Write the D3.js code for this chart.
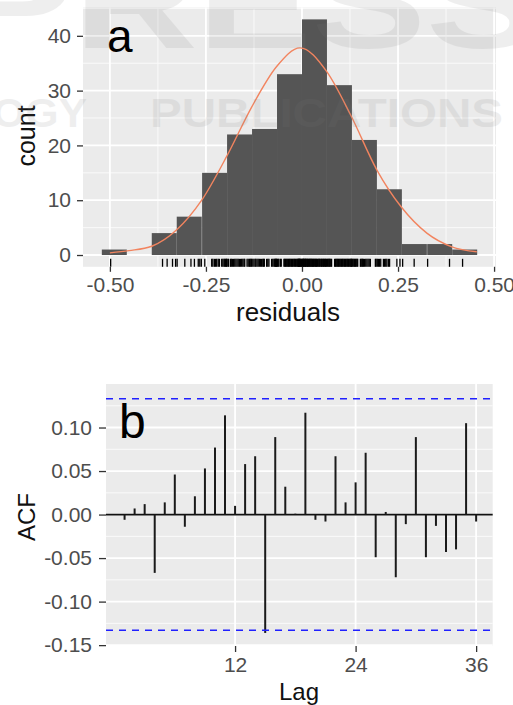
<!DOCTYPE html>
<html lang="en">
<head>
<meta charset="utf-8">
<title>Residual diagnostics</title>
<script src="https://cdn.jsdelivr.net/npm/d3@7"></script>
<style>
  body { margin: 0; background: #fff; }
  svg text { font-family: "Liberation Sans", Arial, sans-serif; }
</style>
</head>
<body>
<svg id="chart" width="513" height="705"></svg>
<script>
// ---- panel a: histogram of residuals ----
var binLeft = [-0.521, -0.456, -0.391, -0.326, -0.260, -0.195, -0.130, -0.065, 0, 0.065, 0.130, 0.195, 0.260, 0.326, 0.391];
var binWidth = 0.065;
var binCounts = [1, 0, 4, 7, 15, 22, 23, 33, 43, 31, 21, 12, 2, 2, 1];

// points
var normX = [-0.500, -0.450, -0.391, -0.326, -0.261, -0.196, -0.131, -0.066, -0.005, 0.064, 0.127, 0.195, 0.258, 0.325, 0.390, 0.455];
var normY = [0.4, 0.8, 1.6, 4.6, 10, 18, 27, 34.4, 37.8, 33.5, 25.5, 15.5, 8.8, 4, 1.5, 0.6];

// rug of individual residuals
var rugValues = [
  -0.498,
  -0.363, -0.351, -0.337, -0.329,
  -0.325, -0.305, -0.289, -0.280, -0.270, -0.266, -0.262,
  -0.253, -0.235, -0.232, -0.228, -0.225, -0.222, -0.218, -0.215, -0.209, -0.206, -0.203, -0.201, -0.199, -0.197, -0.196,
  -0.193, -0.191, -0.186, -0.184, -0.181, -0.178, -0.175, -0.172, -0.169, -0.166, -0.163, -0.160, -0.157, -0.154, -0.151, -0.149, -0.143, -0.140, -0.137, -0.135, -0.133, -0.131,
  -0.128, -0.125, -0.122, -0.120, -0.117, -0.114, -0.111, -0.108, -0.105, -0.102, -0.100, -0.098, -0.092, -0.089, -0.086, -0.079, -0.076, -0.073, -0.071, -0.069, -0.068, -0.067, -0.066,
  -0.064, -0.062, -0.060, -0.056, -0.054, -0.047, -0.045, -0.043, -0.041, -0.039, -0.037, -0.035, -0.033, -0.031, -0.029, -0.027, -0.025, -0.023, -0.021, -0.019, -0.017, -0.015, -0.013, -0.011, -0.010, -0.009, -0.008, -0.007, -0.006, -0.005, -0.004, -0.002, -0.001,
  0.001, 0.002, 0.003, 0.004, 0.005, 0.006, 0.008, 0.009, 0.010, 0.011, 0.013, 0.014, 0.015, 0.017, 0.018, 0.020, 0.021, 0.023, 0.024, 0.026, 0.027, 0.029, 0.030, 0.032, 0.034, 0.035, 0.037, 0.038, 0.040, 0.042, 0.044, 0.045, 0.047, 0.049, 0.051, 0.052, 0.054, 0.056, 0.057, 0.059, 0.061, 0.062, 0.064,
  0.066, 0.068, 0.070, 0.071, 0.073, 0.075, 0.077, 0.085, 0.087, 0.089, 0.091, 0.093, 0.095, 0.097, 0.099, 0.101, 0.103, 0.105, 0.107, 0.109, 0.111, 0.113, 0.115, 0.117, 0.119, 0.121, 0.123, 0.125, 0.127, 0.128, 0.129,
  0.131, 0.133, 0.135, 0.137, 0.139, 0.141, 0.143, 0.145, 0.152, 0.154, 0.156, 0.158, 0.160, 0.163, 0.166, 0.169, 0.172, 0.175, 0.178, 0.191, 0.193,
  0.196, 0.199, 0.202, 0.205, 0.212, 0.215, 0.218, 0.221, 0.225, 0.228, 0.247, 0.255,
  0.262, 0.292, 0.327, 0.384, 0.418
];

var xTicksA = [-0.5, -0.25, 0, 0.25, 0.5];
var xTickLabelsA = ["-0.50", "-0.25", "0.00", "0.25", "0.50"];
var xMinorA = [-0.375, -0.125, 0.125, 0.375];
var yTicksA = [0, 10, 20, 30, 40];
var yMinorA = [5, 15, 25, 35, 45];

// ---- panel b: ACF of residuals ----
var lags = [1, 2, 3, 4, 5, 6, 7, 8, 9, 10, 11, 12, 13, 14, 15, 16, 17, 18,
            19, 20, 21, 22, 23, 24, 25, 26, 27, 28, 29, 30, 31, 32, 33, 34, 35, 36];
var acf = [-0.006, 0.007, 0.012, -0.067, 0.014, 0.046, -0.014, 0.021, 0.053, 0.077, 0.114, 0.010,
           0.058, 0.067, -0.136, 0.089, 0.032, 0.001, 0.117, -0.006, -0.008, 0.067, 0.014, 0.037,
           0.071, -0.049, 0.003, -0.072, -0.011, 0.089, -0.049, -0.013, -0.043, -0.040, 0.105, -0.008];
var ciLimit = 0.133;
var xTicksB = [12, 24, 36];
var yTicksB = [-0.15, -0.10, -0.05, 0, 0.05, 0.10];
var yTickLabelsB = ["-0.15", "-0.10", "-0.05", "0.00", "0.05", "0.10"];
var yMinorB = [-0.125, -0.075, -0.025, 0.025, 0.075, 0.125];

var svg = d3.select("#chart");
var panelFill = "#ebebeb";
var tickColor = "#4d4d4d";

function drawGrid(g, x, y, xMajor, xMinor, yMajor, yMinor) {
  var x0 = x.range()[0], x1 = x.range()[1];
  var y0 = y.range()[0], y1 = y.range()[1];
  g.append("rect").attr("x", x0).attr("y", y1).attr("width", x1 - x0).attr("height", y0 - y1)
    .attr("fill", panelFill);
  g.selectAll(".hmin").data(yMinor).enter().append("line")
    .attr("x1", x0).attr("x2", x1).attr("y1", function(d) { return y(d); }).attr("y2", function(d) { return y(d); })
    .attr("stroke", "#fafafa").attr("stroke-width", 1);
  g.selectAll(".vmin").data(xMinor).enter().append("line")
    .attr("y1", y0).attr("y2", y1).attr("x1", function(d) { return x(d); }).attr("x2", function(d) { return x(d); })
    .attr("stroke", "#fafafa").attr("stroke-width", 1);
  g.selectAll(".hmaj").data(yMajor.filter(function(d) { return y(d) <= y0 && y(d) >= y1; })).enter().append("line")
    .attr("x1", x0).attr("x2", x1).attr("y1", function(d) { return y(d); }).attr("y2", function(d) { return y(d); })
    .attr("stroke", "#fff").attr("stroke-width", 1.8);
  g.selectAll(".vmaj").data(xMajor.filter(function(d) { return x(d) >= x0 && x(d) <= x1; })).enter().append("line")
    .attr("y1", y0).attr("y2", y1).attr("x1", function(d) { return x(d); }).attr("x2", function(d) { return x(d); })
    .attr("stroke", "#fff").attr("stroke-width", 1.8);
}

function styleAxis(ax) {
  ax.select(".domain").remove();
  ax.selectAll(".tick line").attr("stroke", "#333").attr("stroke-width", 1.3);
  ax.selectAll(".tick text").attr("fill", tickColor).style("font-size", "21px");
}

// ---- panel a ----
var xa = d3.scaleLinear().domain([-0.57, 0.505]).range([83, 496]);
var ya = d3.scaleLinear().domain([-2.15, 45.15]).range([266.8, 7.6]);
var ga = svg.append("g");
drawGrid(ga, xa, ya, xTicksA, xMinorA, yTicksA, yMinorA);

ga.selectAll(".bar").data(binCounts).enter().append("rect")
  .attr("x", function(d, i) { return xa(binLeft[i]); })
  .attr("width", function(d, i) { return xa(binLeft[i] + binWidth) - xa(binLeft[i]); })
  .attr("y", function(d) { return ya(d); })
  .attr("height", function(d) { return ya(0) - ya(d); })
  .attr("fill", "#555555");

var normLine = d3.line()
  .x(function(d, i) { return xa(normX[i]); })
  .y(function(d) { return ya(d); })
  .curve(d3.curveMonotoneX);
ga.append("path").attr("d", normLine(normY))
  .attr("fill", "none").attr("stroke", "#f2845f").attr("stroke-width", 1.4);

ga.selectAll(".rug").data(rugValues).enter().append("line")
  .attr("x1", function(d) { return xa(d); }).attr("x2", function(d) { return xa(d); })
  .attr("y1", ya.range()[0]).attr("y2", ya.range()[0] - 8)
  .attr("stroke", "#000").attr("stroke-width", 1.3);

var axA = ga.append("g").attr("transform", "translate(0," + ya.range()[0] + ")")
  .call(d3.axisBottom(xa).tickValues(xTicksA).tickSize(5).tickPadding(5)
    .tickFormat(function(d, i) { return xTickLabelsA[i]; }));
styleAxis(axA);
var ayA = ga.append("g").attr("transform", "translate(" + xa.range()[0] + ",0)")
  .call(d3.axisLeft(ya).tickValues(yTicksA).tickSize(6).tickPadding(6));
styleAxis(ayA);

ga.append("text").attr("x", 107).attr("y", 52).text("a")
  .style("font-size", "46px").attr("fill", "#000");
ga.append("text").attr("transform", "translate(35,136) rotate(-90)")
  .attr("text-anchor", "middle").text("count").style("font-size", "25px").attr("fill", "#111");
ga.append("text").attr("x", 288).attr("y", 321).attr("text-anchor", "middle")
  .text("residuals").style("font-size", "26px").attr("fill", "#111");

// ---- panel b ----
var xb = d3.scaleLinear().domain([-0.85, 37.65]).range([106, 492.7]);
var yb = d3.scaleLinear().domain([-0.151, 0.150]).range([646, 384]);
var gb = svg.append("g");
drawGrid(gb, xb, yb, xTicksB, [], yTicksB, yMinorB);

gb.append("line").attr("x1", xb.range()[0]).attr("x2", xb.range()[1])
  .attr("y1", yb(0)).attr("y2", yb(0)).attr("stroke", "#111").attr("stroke-width", 1.8);

gb.selectAll(".acf").data(acf).enter().append("line")
  .attr("x1", function(d, i) { return xb(lags[i]); }).attr("x2", function(d, i) { return xb(lags[i]); })
  .attr("y1", yb(0)).attr("y2", function(d) { return yb(d); })
  .attr("stroke", "#1a1a1a").attr("stroke-width", 2);

gb.selectAll(".ci").data([ciLimit, -ciLimit]).enter().append("line")
  .attr("x1", xb.range()[0]).attr("x2", xb.range()[1])
  .attr("y1", function(d) { return yb(d); }).attr("y2", function(d) { return yb(d); })
  .attr("stroke", "#2020ff").attr("stroke-width", 1.5).attr("stroke-dasharray", "7,6");

var axB = gb.append("g").attr("transform", "translate(0," + yb.range()[0] + ")")
  .call(d3.axisBottom(xb).tickValues(xTicksB).tickSize(6).tickPadding(5));
styleAxis(axB);
var ayB = gb.append("g").attr("transform", "translate(" + xb.range()[0] + ",0)")
  .call(d3.axisLeft(yb).tickValues(yTicksB).tickSize(7).tickPadding(7)
    .tickFormat(function(d, i) { return yTickLabelsB[i]; }));
styleAxis(ayB);

gb.append("text").attr("x", 119).attr("y", 438).text("b")
  .style("font-size", "48px").attr("fill", "#000");
gb.append("text").attr("transform", "translate(35,517) rotate(-90)")
  .attr("text-anchor", "middle").text("ACF").style("font-size", "24px").attr("fill", "#111");
gb.append("text").attr("x", 299).attr("y", 700).attr("text-anchor", "middle")
  .text("Lag").style("font-size", "24px").attr("fill", "#111");

// ---- publisher watermark over panel a ----
var wm = svg.append("g").attr("fill", "#7a7a7a").attr("opacity", 0.12).style("font-weight", "bold");
wm.append("text").attr("x", -40).attr("y", 48).text("PRESS")
  .style("font-size", "130px").attr("textLength", 580).attr("lengthAdjust", "spacingAndGlyphs");
wm.append("text").attr("x", -213).attr("y", 127).text("TECHNOLOGY")
  .style("font-size", "40px").attr("textLength", 300).attr("lengthAdjust", "spacingAndGlyphs");
wm.append("text").attr("x", 150).attr("y", 127).text("PUBLICATIONS")
  .style("font-size", "40px").attr("textLength", 353).attr("lengthAdjust", "spacingAndGlyphs");
</script>
</body>
</html>
